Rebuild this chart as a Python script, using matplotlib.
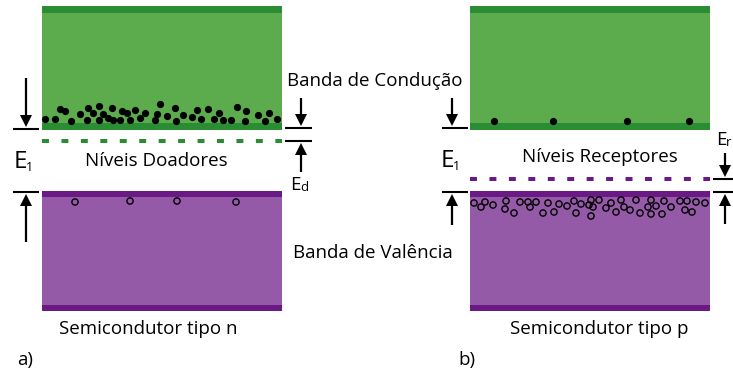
import matplotlib
matplotlib.use("Agg")
import matplotlib.pyplot as plt
from matplotlib.patches import Rectangle, Polygon

plt.rcParams['font.family'] = ['Open Sans', 'DejaVu Sans']
plt.rcParams['lines.scale_dashes'] = False

# ---------------- data (pixel-space diagram coordinates) ----------------
panel_x0 = [42, 470]
panel_x1 = [282, 710]
cond_band = (6, 130)        # top, bottom of conduction band
val_band = (191, 311)       # top, bottom of valence band
edge = 7                    # thickness of dark edge strips

donor_level_y = 141
acceptor_level_y = 179

electrons_n_x = [45, 55, 60, 65, 71, 80, 87, 88, 93, 99, 99, 103, 108, 112, 113, 120,
                 122, 127, 130, 135, 140, 145, 155, 157, 160, 167, 175, 176, 183, 192,
                 197, 201, 208, 214, 219, 223, 231, 237, 245, 246, 258, 265, 269, 277]
electrons_n_y = [119, 119, 109, 111, 121, 114, 120, 108, 113, 106, 120, 114, 118, 108, 120, 120,
                 111, 113, 120, 110, 118, 113, 120, 114, 104, 116, 108, 121, 115, 117,
                 110, 119, 109, 119, 113, 120, 120, 107, 121, 111, 115, 121, 113, 119]

holes_n_x = [75, 130, 177, 236]
holes_n_y = [202, 201, 201, 202]

electrons_p_x = [494, 553, 627, 689]
electrons_p_y = [121, 121, 121, 121]

holes_p_x = [474, 481, 485, 493, 505, 506, 514, 520, 528, 530, 536, 543, 548, 554, 559,
             567, 574, 576, 581, 589, 591, 593, 599, 591, 606, 611, 616, 621, 624, 630,
             636, 640, 648, 651, 651, 656, 662, 664, 671, 680, 685, 687, 692, 696, 705]
holes_p_y = [203, 207, 202, 205, 209, 201, 213, 202, 202, 207, 202, 213, 203, 212, 204,
             206, 201, 213, 204, 205, 200, 207, 200, 216, 208, 203, 212, 200, 207, 210,
             200, 213, 207, 200, 214, 206, 214, 201, 207, 201, 210, 201, 212, 202, 203]

# tick lines (x0, x1, y) and arrows (x, y_tail, y_tip)
ticks = [(13, 39, 129), (13, 39, 192),
         (285, 312, 128), (285, 312, 141),
         (442, 468, 128), (442, 468, 192),
         (713, 733, 179), (713, 733, 192)]
arrows = [(26, 78, 127), (26, 242, 194),
          (301, 98, 126), (301, 172, 143),
          (452, 98, 126), (452, 225, 194),
          (725, 153, 177), (725, 224, 194)]

# colours
green_light = '#5cac4d'
green_dark = '#2a8d34'
purple_light = '#9459a7'
purple_dark = '#6b1a85'

fig = plt.figure(figsize=(7.33, 3.74), dpi=100)
ax = fig.add_axes([0, 0, 1, 1])
ax.set_xlim(0, 733)
ax.set_ylim(374, 0)
ax.axis('off')

for x0, x1 in zip(panel_x0, panel_x1):
    w = x1 - x0
    # conduction band
    ax.add_patch(Rectangle((x0, cond_band[0]), w, cond_band[1] - cond_band[0],
                           facecolor=green_light, edgecolor='none', zorder=1))
    ax.add_patch(Rectangle((x0, cond_band[0]), w, edge, facecolor=green_dark,
                           edgecolor='none', zorder=2))
    ax.add_patch(Rectangle((x0, cond_band[1] - edge), w, edge, facecolor=green_dark,
                           edgecolor='none', zorder=2))
    # valence band
    ax.add_patch(Rectangle((x0, val_band[0]), w, val_band[1] - val_band[0],
                           facecolor=purple_light, edgecolor='none', zorder=1))
    ax.add_patch(Rectangle((x0, val_band[0]), w, edge - 1, facecolor=purple_dark,
                           edgecolor='none', zorder=2))
    ax.add_patch(Rectangle((x0, val_band[1] - edge + 1), w, edge - 1, facecolor=purple_dark,
                           edgecolor='none', zorder=2))

# impurity levels
ax.plot([panel_x0[0], panel_x1[0]], [donor_level_y] * 2, color=green_dark, lw=2.9,
        ls=(0, (5.0, 9.0)), solid_capstyle='butt', dash_capstyle='butt', zorder=2)
ax.plot([panel_x0[1], panel_x1[1]], [acceptor_level_y] * 2, color=purple_dark, lw=2.9,
        ls=(0, (5.0, 9.0)), solid_capstyle='butt', dash_capstyle='butt', zorder=2)

# carriers
ax.scatter(electrons_n_x, electrons_n_y, s=27, c='black', zorder=5, linewidths=0)
ax.scatter(electrons_p_x, electrons_p_y, s=27, c='black', zorder=5, linewidths=0)
ax.scatter(holes_n_x, holes_n_y, s=20, facecolors='none', edgecolors='black',
           linewidths=1.0, zorder=5)
ax.scatter(holes_p_x, holes_p_y, s=20, facecolors='none', edgecolors='black',
           linewidths=1.0, zorder=5)

# ticks and arrows
for x0, x1, y in ticks:
    ax.plot([x0, x1], [y, y], color='black', lw=1.5, solid_capstyle='butt', zorder=6)

head_len, head_half = 12, 6
for x, y0, y1 in arrows:
    d = 1 if y1 > y0 else -1
    ax.plot([x, x], [y0, y1 - d * head_len], color='black', lw=1.6,
            solid_capstyle='butt', zorder=6)
    ax.add_patch(Polygon([[x - head_half, y1 - d * head_len], [x + head_half, y1 - d * head_len],
                          [x, y1]], closed=True, facecolor='black', edgecolor='none', zorder=6))

# texts
fs = 13.5
txt = dict(color='black', ha='center', va='center')
ax.text(375, 81, 'Banda de Condução', fontsize=fs, **txt)
ax.text(373, 253, 'Banda de Valência', fontsize=fs, **txt)
ax.text(156, 161, 'Níveis Doadores', fontsize=fs, **txt)
ax.text(600, 157, 'Níveis Receptores', fontsize=fs, **txt)
ax.text(148, 329, 'Semicondutor tipo n', fontsize=fs, **txt)
ax.text(599, 329, 'Semicondutor tipo p', fontsize=fs, **txt)
ax.text(25, 360, 'a)', fontsize=fs, **txt)
ax.text(467, 360, 'b)', fontsize=fs, **txt)

# energy labels
for xE, yE in [(20, 162), (447, 161)]:
    ax.text(xE, yE, 'E', fontsize=17.5, ha='center', va='center')
    ax.text(xE + 9, yE + 5, '1', fontsize=9, ha='center', va='center')
ax.text(295, 185, 'E', fontsize=fs, ha='center', va='center')
ax.text(304, 187, 'd', fontsize=9.5, ha='center', va='center')
ax.text(721, 140, 'E', fontsize=fs, ha='center', va='center')
ax.text(729, 142, 'r', fontsize=9.5, ha='center', va='center')

fig.savefig('out.png', dpi=100)
